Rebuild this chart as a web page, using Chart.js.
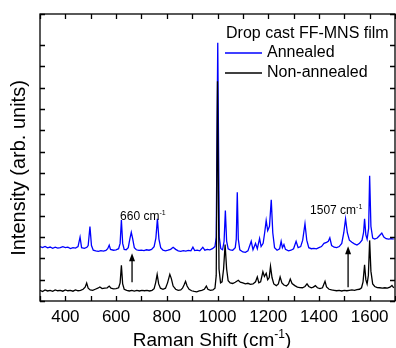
<!DOCTYPE html>
<html>
<head>
<meta charset="utf-8">
<script src="https://cdn.jsdelivr.net/npm/chart.js@4.4.0/dist/chart.umd.min.js"></script>
<style>
  body { margin: 0; background: #fff; }
  canvas { display: block; }
</style>
</head>
<body>
<canvas id="ramanChart" width="396" height="348"></canvas>
<script>
// Raman spectra (intensity in tick units, offset as plotted)
const annealedShift = [300, 310, 320, 330, 340, 350, 360, 370, 380, 390, 400, 410, 420, 430, 440, 450, 458, 464, 475, 485,
  490, 497, 503, 510, 520, 530, 540, 550, 560, 567, 573, 578, 590, 600, 610, 616, 621, 626, 632, 640,
  648, 655, 660, 665, 672, 680, 690, 700, 710, 720, 730, 740, 750, 757, 763, 769, 776, 785, 795, 805,
  815, 825, 835, 845, 855, 865, 875, 885, 895, 903, 910, 920, 930, 942, 950, 960, 970, 980, 990, 995,
  1001, 1007, 1013, 1020, 1026, 1031, 1036, 1042, 1050, 1060, 1070, 1074, 1078, 1082, 1088, 1100, 1110, 1120, 1133, 1140,
  1150, 1157, 1166, 1172, 1180, 1186, 1192, 1198, 1205, 1212, 1218, 1225, 1235, 1245, 1251, 1256, 1262, 1268, 1280, 1290,
  1300, 1310, 1318, 1328, 1336, 1345, 1352, 1360, 1370, 1380, 1390, 1400, 1410, 1420, 1430, 1437, 1443, 1450, 1460, 1470,
  1480, 1490, 1498, 1505, 1512, 1520, 1530, 1540, 1550, 1560, 1570, 1576, 1580, 1585, 1590, 1596, 1600, 1605, 1612, 1620,
  1630, 1640, 1648, 1656, 1665, 1675, 1685, 1695];
const annealedIntensity = [2.55, 2.5, 2.56, 2.49, 2.53, 2.47, 2.52, 2.48, 2.5, 2.55, 2.5, 2.52, 2.46, 2.5, 2.48, 2.55, 2.99, 2.5, 2.47, 2.52,
  2.6, 3.49, 2.6, 2.38, 2.35, 2.33, 2.36, 2.34, 2.37, 2.45, 2.62, 2.42, 2.38, 2.4, 2.45, 2.7, 3.8, 2.7, 2.42, 2.4,
  2.5, 2.95, 3.22, 2.95, 2.5, 2.4, 2.37, 2.38, 2.36, 2.4, 2.38, 2.42, 2.55, 2.95, 3.85, 2.9, 2.5, 2.38, 2.35, 2.38,
  2.42, 2.52, 2.42, 2.35, 2.33, 2.36, 2.34, 2.37, 2.35, 2.52, 2.36, 2.38, 2.35, 2.52, 2.38, 2.42, 2.4, 2.45, 2.55, 3.0,
  12.1, 3.0, 2.45, 2.4, 2.8, 4.24, 2.8, 2.45, 2.4, 2.38, 2.5, 2.9, 5.09, 2.9, 2.4, 2.3, 2.28, 2.35, 2.8, 2.4,
  2.7, 2.45, 2.93, 2.55, 2.7, 3.2, 3.77, 3.3, 3.5, 4.74, 3.2, 2.5, 2.38, 2.45, 2.8, 2.5, 2.65, 2.42, 2.35, 2.38,
  2.45, 2.8, 2.5, 2.55, 2.85, 3.62, 2.85, 2.5, 2.45, 2.47, 2.44, 2.5, 2.55, 2.7, 2.75, 2.8, 2.96, 2.6, 2.52, 2.5,
  2.55, 2.7, 3.2, 3.85, 3.2, 2.85, 2.75, 2.68, 2.62, 2.7, 2.85, 3.2, 3.85, 3.1, 2.9, 3.4, 5.87, 3.5, 2.95, 2.9,
  2.95, 3.08, 3.18, 3.0, 2.92, 2.9, 2.92, 2.9];

const nonAnnealedShift = [300, 310, 320, 330, 340, 350, 360, 370, 380, 390, 400, 410, 420, 430, 440, 450, 460, 470, 478, 484,
  490, 498, 508, 518, 528, 536, 545, 555, 565, 573, 580, 590, 600, 610, 616, 621, 626, 632, 642, 652,
  662, 672, 682, 692, 702, 712, 722, 732, 742, 750, 756, 762, 768, 775, 785, 795, 803, 812, 818, 825,
  835, 845, 855, 862, 868, 874, 880, 888, 898, 908, 918, 928, 938, 948, 956, 962, 972, 982, 990, 995,
  1000, 1006, 1012, 1018, 1024, 1030, 1036, 1042, 1050, 1060, 1070, 1082, 1090, 1100, 1110, 1120, 1130, 1140, 1150, 1157,
  1163, 1170, 1179, 1185, 1192, 1198, 1204, 1209, 1215, 1222, 1232, 1240, 1247, 1254, 1262, 1272, 1280, 1287, 1294, 1305,
  1315, 1325, 1335, 1345, 1353, 1360, 1370, 1378, 1386, 1394, 1404, 1414, 1424, 1430, 1440, 1450, 1460, 1470, 1480, 1490,
  1500, 1510, 1520, 1530, 1540, 1550, 1560, 1568, 1574, 1580, 1585, 1590, 1595, 1600, 1605, 1612, 1620, 1630, 1640, 1650,
  1660, 1670, 1680, 1688, 1695];
const nonAnnealedIntensity = [0.5, 0.44, 0.52, 0.47, 0.5, 0.45, 0.52, 0.48, 0.5, 0.46, 0.52, 0.48, 0.5, 0.46, 0.52, 0.48, 0.5, 0.55, 0.65, 0.84,
  0.6, 0.52, 0.5, 0.55, 0.6, 0.66, 0.58, 0.6, 0.62, 0.7, 0.6, 0.57, 0.58, 0.62, 0.85, 1.67, 0.8, 0.55, 0.5, 0.47,
  0.5, 0.46, 0.5, 0.47, 0.5, 0.48, 0.5, 0.47, 0.5, 0.58, 0.85, 1.25, 0.8, 0.6, 0.55, 0.6, 0.85, 1.25, 1.05, 0.7,
  0.55, 0.5, 0.52, 0.6, 0.75, 0.92, 0.7, 0.55, 0.48, 0.45, 0.43, 0.47, 0.5, 0.55, 0.7, 0.55, 0.5, 0.52, 0.6, 1.2,
  10.3, 1.5, 0.85, 0.9, 1.5, 2.65, 1.5, 0.95, 0.85, 0.82, 0.88, 0.97, 0.88, 0.85, 0.8, 0.83, 0.78, 0.8, 0.9, 1.13,
  0.85, 0.9, 1.37, 1.15, 1.3, 1.0, 1.1, 1.63, 1.1, 0.8, 0.72, 0.8, 1.13, 0.85, 0.75, 0.7, 0.8, 1.03, 0.82, 0.72,
  0.65, 0.63, 0.62, 0.68, 0.8, 0.68, 0.62, 0.65, 0.72, 0.62, 0.58, 0.62, 0.92, 0.66, 0.55, 0.52, 0.5, 0.48, 0.5, 0.47,
  0.5, 0.48, 0.5, 0.52, 0.5, 0.53, 0.55, 0.62, 0.9, 1.7, 1.0, 0.8, 1.2, 2.84, 1.4, 0.8, 0.68, 0.63, 0.62, 0.6,
  0.62, 0.6, 0.65, 0.73, 0.62];

const xTickLabels = [400, 600, 800, 1000, 1200, 1400, 1600];
const seriesNames = ['Annealed', 'Non-annealed'];
const legendTitle = 'Drop cast FF-MNS film';
// arrows marking the two bands: [label, shift, tail, head]
const bandLabels = ['660', '1507'];
const bandShift = [663, 1515];
const arrowTail = [0.88, 0.64];
const arrowHead = [2.24, 2.57];

const FONT = '"Liberation Sans", Arial, sans-serif';

function toPoints(xs, ys) {
  return xs.map((x, i) => ({ x: x, y: ys[i] }));
}

// draws text pieces, some raised as superscript, starting at x
function drawParts(ctx, parts, x, y, size) {
  let cx = x;
  parts.forEach(p => {
    const s = p[1] ? Math.round(size * 0.62) : size;
    ctx.font = s + 'px ' + FONT;
    ctx.fillText(p[0], cx, p[1] ? y - size * 0.42 : y);
    cx += ctx.measureText(p[0]).width;
  });
}
function partsWidth(ctx, parts, size) {
  let w = 0;
  parts.forEach(p => {
    ctx.font = (p[1] ? Math.round(size * 0.62) : size) + 'px ' + FONT;
    w += ctx.measureText(p[0]).width;
  });
  return w;
}

const extras = {
  id: 'extras',
  afterDraw(chart) {
    const ctx = chart.ctx, a = chart.chartArea;
    const xs = chart.scales.x, ys = chart.scales.y;
    ctx.save();
    ctx.strokeStyle = '#000';
    ctx.fillStyle = '#000';
    ctx.lineWidth = 1.3;

    // inward ticks on all four sides
    ctx.beginPath();
    xs.ticks.forEach(t => {
      const px = Math.round(xs.getPixelForValue(t.value)) + 0.5;
      ctx.moveTo(px, a.bottom); ctx.lineTo(px, a.bottom - 5);
      ctx.moveTo(px, a.top); ctx.lineTo(px, a.top + 5);
    });
    ys.ticks.forEach(t => {
      const py = Math.round(ys.getPixelForValue(t.value)) + 0.5;
      ctx.moveTo(a.left, py); ctx.lineTo(a.left + 5, py);
      ctx.moveTo(a.right, py); ctx.lineTo(a.right - 5, py);
    });
    ctx.stroke();
    ctx.strokeRect(a.left, a.top, a.right - a.left, a.bottom - a.top);

    // band arrows and labels
    ctx.textBaseline = 'alphabetic';
    ctx.textAlign = 'left';
    bandLabels.forEach((lab, i) => {
      const px = xs.getPixelForValue(bandShift[i]);
      const y0 = ys.getPixelForValue(arrowTail[i]);
      const y1 = ys.getPixelForValue(arrowHead[i]);
      ctx.lineWidth = 1.3;
      ctx.beginPath();
      ctx.moveTo(px, y0); ctx.lineTo(px, y1 + 6);
      ctx.stroke();
      ctx.beginPath();
      ctx.moveTo(px, y1); ctx.lineTo(px - 3, y1 + 8); ctx.lineTo(px + 3, y1 + 8);
      ctx.closePath(); ctx.fill();
      const parts = [[lab + ' cm', false], ['-1', true]];
      const tx = i === 0 ? px - 12 : px - 38;
      drawParts(ctx, parts, tx, y1 - (i === 0 ? 33 : 32), 12);
    });

    // legend
    ctx.font = '16px ' + FONT;
    ctx.textBaseline = 'middle';
    ctx.fillText(legendTitle, 226, 34);
    const colors = ['#0000ff', '#000000'];
    seriesNames.forEach((name, i) => {
      const ly = 53 + i * 20;
      ctx.strokeStyle = colors[i];
      ctx.lineWidth = 1.3;
      ctx.beginPath();
      ctx.moveTo(225, ly); ctx.lineTo(262, ly);
      ctx.stroke();
      ctx.fillText(name, 267, ly);
    });

    // axis titles
    ctx.textBaseline = 'alphabetic';
    const xt = [['Raman Shift (cm', false], ['-1', true], [')', false]];
    const xw = partsWidth(ctx, xt, 19);
    drawParts(ctx, xt, 212 - xw / 2, 346, 19);

    ctx.translate(25, 168);
    ctx.rotate(-Math.PI / 2);
    ctx.font = '20px ' + FONT;
    ctx.textAlign = 'center';
    ctx.fillText('Intensity (arb. units)', 0, 0);
    ctx.restore();
  }
};

new Chart(document.getElementById('ramanChart'), {
  type: 'line',
  data: {
    datasets: [{
      label: seriesNames[0],
      data: toPoints(annealedShift, annealedIntensity),
      borderColor: '#0000ff',
      borderWidth: 1.3,
      pointRadius: 0,
      tension: 0,
      order: 1
    }, {
      label: seriesNames[1],
      data: toPoints(nonAnnealedShift, nonAnnealedIntensity),
      borderColor: '#000000',
      borderWidth: 1.3,
      pointRadius: 0,
      tension: 0,
      order: 0
    }]
  },
  options: {
    responsive: false,
    animation: false,
    layout: { padding: { top: 14, right: 1, left: 0, bottom: 0 } },
    plugins: { legend: { display: false }, tooltip: { enabled: false } },
    scales: {
      x: {
        type: 'linear',
        min: 300,
        max: 1700,
        grid: { display: false, drawTicks: false },
        border: { display: false },
        ticks: {
          stepSize: 100,
          autoSkip: false,
          maxRotation: 0,
          padding: 6,
          color: '#000',
          font: { family: FONT, size: 17 },
          callback: v => xTickLabels.includes(v) ? String(v) : ''
        },
        afterFit: s => { s.height = 47; s.paddingLeft = 0; s.paddingRight = 0; }
      },
      y: {
        min: 0,
        max: 13.45,
        grid: { display: false, drawTicks: false },
        border: { display: false },
        ticks: { display: false, stepSize: 1 },
        afterFit: s => { s.width = 40; }
      }
    }
  },
  plugins: [extras]
});
</script>
</body>
</html>
